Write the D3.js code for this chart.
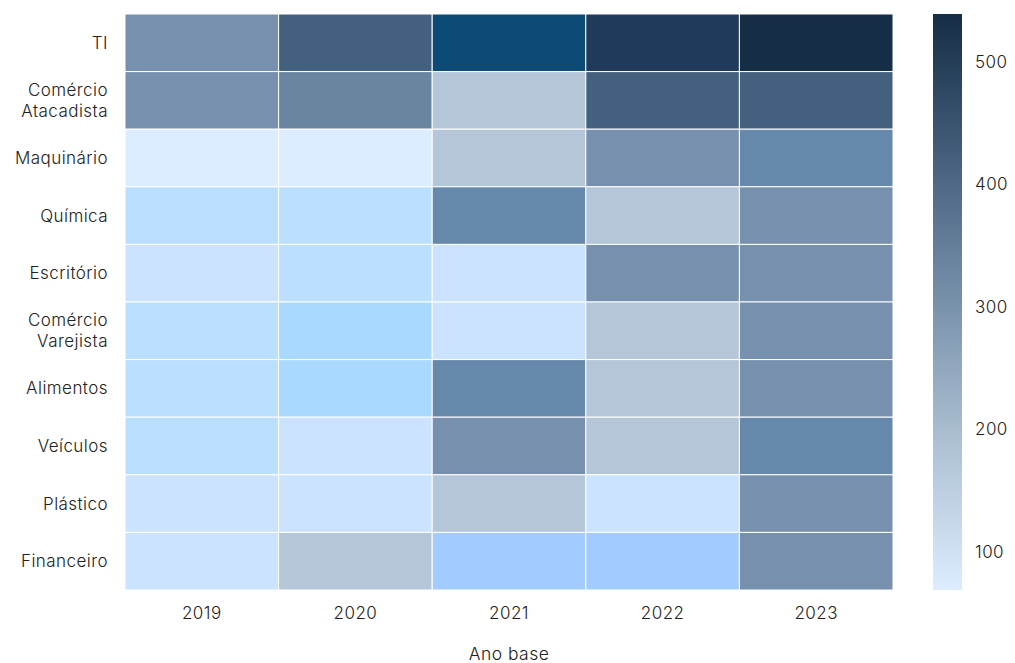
<!DOCTYPE html>
<html>
<head>
<meta charset="utf-8">
<script src="https://cdn.jsdelivr.net/npm/d3@7"></script>
<style>
  html, body { margin: 0; padding: 0; background: #ffffff; }
  svg text { font-family: Inter, "DejaVu Sans", sans-serif; fill: #222; font-weight: 300; letter-spacing: 0.45px; }
</style>
</head>
<body>
<svg id="chart" width="1015" height="663"></svg>
<script>
const years = ["2019", "2020", "2021", "2022", "2023"];
const sectors = ["TI", "Comércio Atacadista", "Maquinário", "Química", "Escritório",
                 "Comércio Varejista", "Alimentos", "Veículos", "Plástico", "Financeiro"];
const values = [
  [300, 420, 470, 505, 539],
  [295, 320, 190, 425, 418],
  [69, 72, 188, 298, 345],
  [120, 122, 340, 192, 302],
  [100, 118, 98, 296, 305],
  [121, 135, 102, 195, 300],
  [119, 136, 342, 190, 298],
  [123, 104, 303, 187, 338],
  [101, 99, 185, 97, 301],
  [96, 186, 150, 152, 299]
];
const colorBreaks = [85, 110, 128, 142, 170, 250, 310, 330, 380, 450, 490, 525];
const cellColors = ["#deecff", "#cbe3ff", "#bbdfff", "#a9d9ff", "#a2cbff", "#b5c6d8",
                    "#7690ae", "#6886a0", "#6688aa", "#43607f", "#0b4a75", "#1f3a5a", "#152d45"];
const barStops = [69, 200, 300, 400, 539];
const barColors = ["#deecff", "#a9bcd0", "#7a93ac", "#4e6886", "#152d45"];
const barTicks = [100, 200, 300, 400, 500];
const xTitle = "Ano base";

const svg = d3.select("#chart");
const m = { left: 125, right: 893, top: 14, bottom: 590 };
const fsPx = 17;
const fs = fsPx + "px";

const x = d3.scaleBand().domain(years).range([m.left, m.right]).padding(0);
const y = d3.scaleBand().domain(sectors).range([m.top, m.bottom]).padding(0);
const color = d3.scaleThreshold().domain(colorBreaks).range(cellColors);

const cells = [];
sectors.forEach((s, i) => years.forEach((yr, j) => cells.push({ s, yr, v: values[i][j] })));

svg.append("g").selectAll("rect").data(cells).join("rect")
  .attr("x", d => x(d.yr))
  .attr("y", d => y(d.s))
  .attr("width", x.bandwidth())
  .attr("height", y.bandwidth())
  .attr("fill", d => color(d.v))
  .attr("stroke", "#ffffff")
  .attr("stroke-width", 1);

// x axis
const xAxis = svg.append("g").attr("transform", `translate(0,${m.bottom})`)
  .call(d3.axisBottom(x).tickSize(0).tickPadding(17));
xAxis.select(".domain").remove();
xAxis.selectAll("text").style("font-size", fs).style("font-family", null).attr("fill", "#222");

svg.append("text")
  .attr("x", (m.left + m.right) / 2)
  .attr("y", 660)
  .attr("text-anchor", "middle")
  .style("font-size", "17.5px")
  .text(xTitle);

// y axis with wrapped labels
const yAxis = svg.append("g").attr("transform", `translate(${m.left},0)`)
  .call(d3.axisLeft(y).tickSize(0).tickPadding(17));
yAxis.select(".domain").remove();
yAxis.selectAll("text").each(function(d) {
  const t = d3.select(this);
  t.text(null).attr("dy", null).style("font-size", fs).style("font-family", null).attr("fill", "#222");
  const words = d.split(" ");
  const lh = 21;
  const x0 = t.attr("x");
  words.forEach((w, k) => {
    t.append("tspan").attr("x", x0)
      .attr("dy", k === 0 ? (0.35 * fsPx - (words.length - 1) * lh / 2) + "px" : lh + "px")
      .text(w);
  });
});

// colorbar
const cb = { x: 933, w: 29 };
const cScale = d3.scaleLinear().domain(barStops).range(barColors).interpolate(d3.interpolateRgb);
const yc = d3.scaleLinear().domain([barStops[0], barStops[barStops.length - 1]]).range([m.bottom, m.top]);
const defs = svg.append("defs");
const grad = defs.append("linearGradient").attr("id", "cbgrad")
  .attr("x1", "0").attr("y1", "1").attr("x2", "0").attr("y2", "0");
d3.range(0, 1.0001, 0.05).forEach(t => {
  const v = barStops[0] + t * (barStops[barStops.length - 1] - barStops[0]);
  grad.append("stop").attr("offset", t).attr("stop-color", cScale(v));
});
svg.append("rect")
  .attr("x", cb.x).attr("y", yc.range()[1])
  .attr("width", cb.w).attr("height", yc.range()[0] - yc.range()[1])
  .attr("fill", "url(#cbgrad)");
const cAxis = svg.append("g").attr("transform", `translate(${cb.x + cb.w},0)`)
  .call(d3.axisRight(yc).tickValues(barTicks).tickSize(0).tickPadding(13));
cAxis.select(".domain").remove();
cAxis.selectAll("text").style("font-size", fs).style("font-family", null).attr("fill", "#222");
</script>
</body>
</html>
